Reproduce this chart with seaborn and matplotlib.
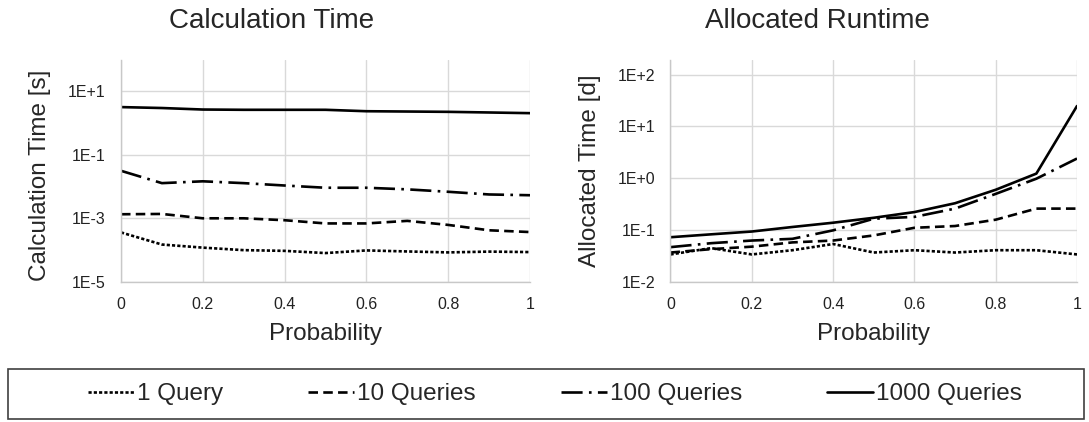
import numpy as np
import pandas as pd
import matplotlib
matplotlib.use("Agg")
from matplotlib import pyplot as plt
from matplotlib.patches import Rectangle
from matplotlib.ticker import FixedLocator, FuncFormatter, NullLocator
import seaborn as sns

# probability steps
prob = [0.0, 0.1, 0.2, 0.3, 0.4, 0.5, 0.6, 0.7, 0.8, 0.9, 1.0]
series = ["1 Query", "10 Queries", "100 Queries", "1000 Queries"]

# calculation time [s]
calc_1 = [3.6e-4, 1.5e-4, 1.2e-4, 1.0e-4, 9.5e-5, 8.1e-5, 9.8e-5, 9.1e-5, 8.5e-5, 9.0e-5, 8.7e-5]
calc_10 = [1.34e-3, 1.37e-3, 1.0e-3, 1.0e-3, 8.7e-4, 6.9e-4, 6.9e-4, 8.3e-4, 6.2e-4, 4.2e-4, 3.7e-4]
calc_100 = [3.1e-2, 1.27e-2, 1.45e-2, 1.27e-2, 1.07e-2, 9.1e-3, 9.1e-3, 8.1e-3, 6.8e-3, 5.6e-3, 5.3e-3]
calc_1000 = [3.1, 2.9, 2.6, 2.55, 2.55, 2.55, 2.3, 2.25, 2.2, 2.1, 2.0]

# allocated runtime [d]
alloc_1 = [0.034, 0.045, 0.034, 0.041, 0.054, 0.037, 0.041, 0.037, 0.041, 0.041, 0.034]
alloc_10 = [0.037, 0.043, 0.048, 0.058, 0.063, 0.079, 0.111, 0.12, 0.159, 0.26, 0.26]
alloc_100 = [0.047, 0.056, 0.063, 0.068, 0.099, 0.166, 0.18, 0.26, 0.5, 0.98, 2.4]
alloc_1000 = [0.073, 0.083, 0.094, 0.115, 0.139, 0.173, 0.223, 0.33, 0.6, 1.23, 24.7]


def long_table(cols):
    rows = []
    for name, vals in zip(series, cols):
        for p, v in zip(prob, vals):
            rows.append({"Probability": p, "value": v, "series": name})
    return pd.DataFrame(rows)


calc_df = long_table([calc_1, calc_10, calc_100, calc_1000])
alloc_df = long_table([alloc_1, alloc_10, alloc_100, alloc_1000])

sns.set_style("white")
plt.rcParams["font.family"] = ["Liberation Sans", "DejaVu Sans"]

dash_map = {
    "1 Query": (1.2, 0.8),
    "10 Queries": (3.6, 2.0),
    "100 Queries": (8, 2.4, 1, 2.4),
    "1000 Queries": "",
}
pal = {s: "black" for s in series}

fig = plt.figure(figsize=(10.89, 4.22), dpi=100)
W, H = 1089, 422
ax1 = fig.add_axes([121 / W, 1 - 282 / H, (530 - 121) / W, 222 / H])
ax2 = fig.add_axes([670.5 / W, 1 - 282 / H, (1077 - 670.5) / W, 222 / H])


def fmt(v, pos):
    return "1E{:+d}".format(int(round(np.log10(v))))


for ax, df, ylab, ticks, ylim, lx, ly in [
    (ax1, calc_df, "Calculation Time [s]", [1e-5, 1e-3, 1e-1, 1e1], (1e-5, 10 ** 1.97), -0.17, 0.48),
    (ax2, alloc_df, "Allocated Time [d]", [1e-2, 1e-1, 1e0, 1e1, 1e2], (1e-2, 10 ** 2.28), -0.171, 0.5),
]:
    sns.lineplot(data=df, x="Probability", y="value", hue="series", style="series",
                 hue_order=series, style_order=series, palette=pal, dashes=dash_map,
                 linewidth=1.9, ax=ax, legend=(ax is ax1))
    ax.set_yscale("log")
    ax.set_ylim(*ylim)
    ax.set_xlim(0, 1)
    ax.yaxis.set_major_locator(FixedLocator(ticks))
    ax.yaxis.set_major_formatter(FuncFormatter(fmt))
    ax.yaxis.set_minor_locator(NullLocator())
    ax.set_xticks([0, 0.2, 0.4, 0.6, 0.8, 1.0])
    ax.set_xticklabels(["0", "0.2", "0.4", "0.6", "0.8", "1"])
    ax.grid(True, color="#D9D9D9", linewidth=1.0)
    ax.set_axisbelow(True)
    for s in ["top", "right"]:
        ax.spines[s].set_visible(False)
    for s in ["left", "bottom"]:
        ax.spines[s].set_color("#C8C8C8")
        ax.spines[s].set_linewidth(1.0)
    ax.tick_params(axis="y", labelsize=11.5, length=0, pad=11, labelcolor="#222222")
    ax.tick_params(axis="x", labelsize=11.5, length=0, pad=11, labelcolor="#222222")
    ax.set_xlabel("Probability", fontsize=17.5, labelpad=8)
    ax.set_ylabel(ylab, fontsize=17.5)
    ax.yaxis.set_label_coords(lx, ly)

fig.text(272 / W, 1 - 21 / H, "Calculation Time", ha="center", va="center", fontsize=20)
fig.text(817 / W, 1 - 21 / H, "Allocated Runtime", ha="center", va="center", fontsize=20)

handles, labels = ax1.get_legend_handles_labels()
ax1.get_legend().remove()
fig.legend(handles, labels, loc="center", bbox_to_anchor=(555 / W, 1 - 394 / H),
           ncol=4, frameon=False, fontsize=17.5, handlelength=1.9,
           handletextpad=0.12, columnspacing=3.5)

fig.patches.append(Rectangle((8 / W, 1 - 419 / H), (1084 - 8) / W, 50 / H,
                             transform=fig.transFigure, fill=False,
                             edgecolor="#404040", linewidth=1.2))

fig.savefig("out.png", dpi=100)
